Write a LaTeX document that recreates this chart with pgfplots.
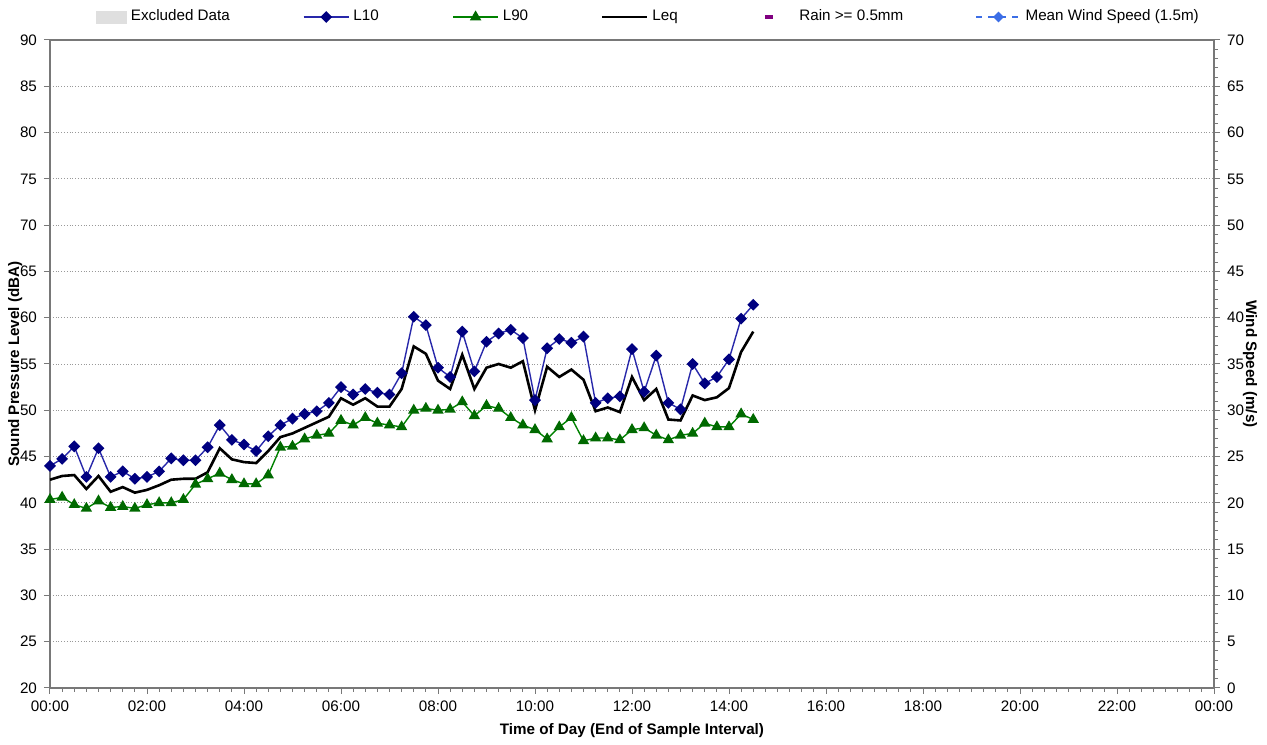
\documentclass[border=0pt]{standalone}
\usepackage{fontspec}
\setmainfont{Liberation Sans}
\usepackage{pgfplots}
\usepackage{pgfplotstable}
\pgfplotsset{compat=1.18}
\definecolor{lten}{RGB}{40,40,170}
\definecolor{ltenmark}{RGB}{0,0,128}
\definecolor{lninety}{RGB}{0,130,0}
\definecolor{lninetymark}{RGB}{0,105,0}
\definecolor{rain}{RGB}{128,0,128}
\definecolor{wind}{RGB}{60,110,230}
\definecolor{axgray}{RGB}{120,120,120}

\pgfplotstableread{
t L10 Leq L90
0.00 44.0 42.5 40.35
0.25 44.75 42.9 40.6
0.50 46.1 43.0 39.8
0.75 42.8 41.5 39.4
1.00 45.9 42.9 40.2
1.25 42.8 41.2 39.5
1.50 43.4 41.7 39.6
1.75 42.6 41.1 39.4
2.00 42.8 41.4 39.8
2.25 43.4 41.9 40.0
2.50 44.8 42.5 40.0
2.75 44.6 42.6 40.35
3.00 44.6 42.6 42.0
3.25 46.0 43.3 42.6
3.50 48.4 45.9 43.2
3.75 46.8 44.7 42.5
4.00 46.3 44.4 42.05
4.25 45.6 44.3 42.05
4.50 47.2 45.6 43.0
4.75 48.4 47.1 46.0
5.00 49.1 47.5 46.1
5.25 49.6 48.1 46.9
5.50 49.9 48.7 47.3
5.75 50.8 49.3 47.5
6.00 52.5 51.3 48.9
6.25 51.7 50.6 48.4
6.50 52.3 51.3 49.2
6.75 51.9 50.4 48.6
7.00 51.7 50.4 48.4
7.25 54.0 52.3 48.2
7.50 60.1 56.9 50.0
7.75 59.2 56.1 50.2
8.00 54.6 53.2 50.0
8.25 53.6 52.3 50.1
8.50 58.5 56.0 50.9
8.75 54.2 52.3 49.4
9.00 57.4 54.6 50.5
9.25 58.3 55.0 50.2
9.50 58.7 54.6 49.2
9.75 57.8 55.3 48.4
10.00 51.1 50.0 47.9
10.25 56.7 54.7 46.9
10.50 57.7 53.6 48.2
10.75 57.3 54.4 49.2
11.00 57.95 53.3 46.7
11.25 50.8 49.9 47.0
11.50 51.3 50.3 47.0
11.75 51.5 49.8 46.8
12.00 56.6 53.6 47.9
12.25 52.0 51.1 48.1
12.50 55.9 52.3 47.3
12.75 50.8 49.0 46.8
13.00 50.1 48.9 47.3
13.25 55.0 51.6 47.5
13.50 52.9 51.1 48.6
13.75 53.6 51.4 48.2
14.00 55.5 52.4 48.2
14.25 59.9 56.3 49.6
14.50 61.4 58.5 49.0
}\data

\begin{document}
\begin{tikzpicture}
\pgfplotsset{
  every axis/.append style={font=\fontsize{7.6}{9}\selectfont},
}
\begin{axis}[
  name=main,
  scale only axis, width=582pt, height=324pt,
  xmin=0, xmax=24, ymin=20, ymax=90,
  xtick={0,2,...,24},
  xticklabels={00:00,02:00,04:00,06:00,08:00,10:00,12:00,14:00,16:00,18:00,20:00,22:00,00:00},
  minor x tick num=7,
  ytick={20,25,...,90},
  xtick pos=bottom, ytick pos=left,
  tick align=outside,
  major tick length=3pt, minor tick length=2pt,
  every tick/.style={axgray, line width=0.5pt},
  axis line style={axgray, line width=0.7pt},
  ymajorgrids,
  major grid style={densely dotted, gray!80, line width=0.4pt},
  /pgf/number format/assume math mode=true,
  xlabel={\bfseries Time of Day (End of Sample Interval)},
  ylabel={\bfseries Sound Pressure Level (dBA)},
  ylabel style={at={(axis description cs:-0.030,0.5)}, anchor=center},
  xlabel style={at={(axis description cs:0.5,0)}, anchor=center, yshift=-21.5pt},
  legend columns=6,
  legend cell align=left,
  legend style={at={(0,1)}, anchor=west, xshift=16pt, yshift=11.5pt,
    draw=none, fill=none, inner sep=0pt, outer sep=0pt,
    nodes={inner sep=0pt, text depth=0.15em},
    /tikz/column sep=0pt,
    font=\fontsize{7.6}{9}\selectfont},
  legend image code/.code={\path[draw=none,fill=none] (0pt,-3pt) rectangle (22.5pt,3pt);
    \draw[mark repeat=2,mark phase=2,#1] plot coordinates {(0pt,0pt) (11.25pt,0pt) (22.5pt,0pt)};},
]
\addlegendimage{legend image code/.code={\path[draw=none,fill=none] (0pt,-3pt) rectangle (22.5pt,3pt);
    \fill[gray!25] (7pt,-3pt) rectangle (22pt,3pt);}}
\addlegendentry{\makebox[88pt][l]{\hspace{2pt}Excluded Data}}
\addplot[lten, line width=0.7pt, mark=square*, mark size=1.75pt,
  mark options={fill=ltenmark, draw=ltenmark, solid, rotate=45}] table[x=t, y=L10] {\data};
\addlegendentry{\makebox[51.5pt][l]{\hspace{2pt}L10}}
\addplot[lninety, line width=0.7pt, mark=triangle*, mark size=2.6pt,
  mark options={fill=lninetymark, draw=lninetymark, solid}] table[x=t, y=L90] {\data};
\addlegendentry{\makebox[51pt][l]{\hspace{2pt}L90}}
\addplot[black, line width=1.3pt, no marks] table[x=t, y=Leq] {\data};
\addlegendentry{\makebox[51pt][l]{\hspace{2pt}Leq}}
\addlegendimage{legend image code/.code={\path[draw=none,fill=none] (0pt,-3pt) rectangle (22.5pt,3pt);
    \draw[rain, line width=1.6pt] (7.5pt,0pt) -- (11.5pt,0pt);}}
\addlegendentry{\makebox[90pt][l]{\hspace{2pt}Rain >= 0.5mm}}
\addlegendimage{wind, dashed, line width=0.6pt, mark=square*, mark size=1.6pt,
  mark options={fill=wind, draw=wind, solid, rotate=45}}
\addlegendentry{\hspace{2pt}Mean Wind Speed (1.5m)}
\end{axis}
\begin{axis}[
  scale only axis, width=582pt, height=324pt,
  xmin=0, xmax=24, ymin=0, ymax=70,
  axis x line=none, axis y line*=right,
  ytick={0,5,...,70},
  minor y tick num=4,
  tick align=outside,
  major tick length=3pt, minor tick length=2pt,
  every tick/.style={axgray, line width=0.5pt},
  axis line style={axgray, line width=0.7pt},
  /pgf/number format/assume math mode=true,
  ylabel={\bfseries Wind Speed (m/s)},
  ylabel style={at={(axis description cs:1.031,0.5)}, anchor=center, rotate=180},
]
\addplot[draw=none, forget plot] coordinates {(0,0)};
\end{axis}
\pgfresetboundingbox
\path ([xshift=-25pt,yshift=-28.5pt]main.south west) rectangle ([xshift=26.5pt,yshift=20pt]main.north east);
\end{tikzpicture}
\end{document}
